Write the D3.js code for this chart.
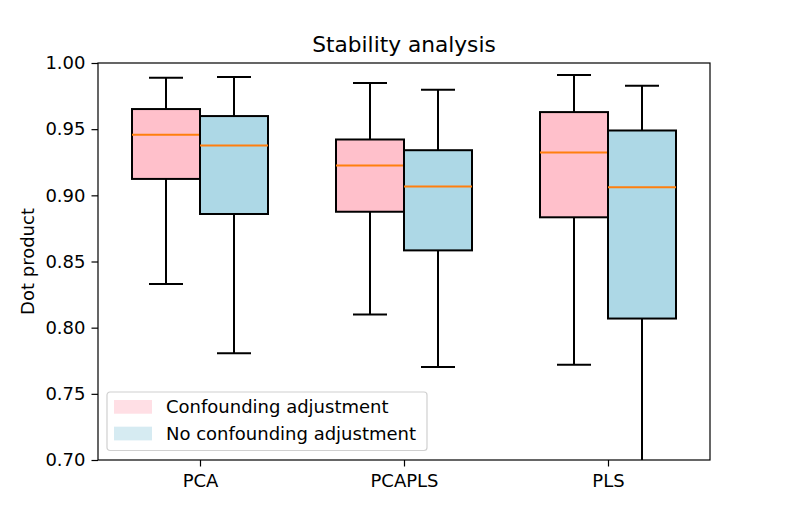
<!DOCTYPE html>
<html>
<head>
<meta charset="utf-8">
<script src="https://d3js.org/d3.v7.min.js"></script>
<style>
  body { margin: 0; background: #fff; }
  text { font-family: "DejaVu Sans", sans-serif; }
</style>
</head>
<body>
<svg id="chart"></svg>
<script>
// categories and the two series (whisker low, Q1, median, Q3, whisker high)
const categories = ["PCA", "PCAPLS", "PLS"];
const seriesNames = ["Confounding adjustment", "No confounding adjustment"];
const seriesColors = ["pink", "lightblue"];

const adjusted = [
    { low: 0.833, q1: 0.9124, med: 0.9457, q3: 0.9652, high: 0.9889 },
    { low: 0.810, q1: 0.8876, med: 0.9225, q3: 0.9422, high: 0.9849 },
    { low: 0.772, q1: 0.8834, med: 0.9323, q3: 0.9629, high: 0.9909 }
];
const notAdjusted = [
    { low: 0.7807, q1: 0.8859, med: 0.9376, q3: 0.9599, high: 0.9894 },
    { low: 0.7703, q1: 0.8584, med: 0.9066, q3: 0.9341, high: 0.9798 },
    { low: 0.680, q1: 0.8069, med: 0.9061, q3: 0.9490, high: 0.9828 }
];
const yTicks = [0.70, 0.75, 0.80, 0.85, 0.90, 0.95, 1.00];

// set the dimensions and margins of the graph
let margin = {top: 63, right: 79, bottom: 66, left: 98},
    width = 789 - margin.left - margin.right,
    height = 526 - margin.top - margin.bottom;

let svg = d3.select("#chart")
    .attr("width", width + margin.left + margin.right)
    .attr("height", height + margin.top + margin.bottom)
    .append("g")
    .attr("transform", "translate(" + margin.left + "," + margin.top + ")");

// positions 1..3 like matplotlib, xlim 0.5..3.5
let x = d3.scaleLinear().domain([0.5, 3.5]).range([0, width]);
let y = d3.scaleLinear().domain([0.70, 1.00]).range([height, 0]);

const offset = 1 / 6, boxW = 1 / 3;
const lw = 2;

svg.append("defs").append("clipPath").attr("id", "clip")
    .append("rect").attr("width", width).attr("height", height);

let plot = svg.append("g").attr("clip-path", "url(#clip)");

[adjusted, notAdjusted].forEach(function(series, s) {
    series.forEach(function(d, i) {
        let cx = i + 1 + (s === 0 ? -offset : offset);
        let x0 = x(cx - boxW / 2), x1 = x(cx + boxW / 2);
        let c0 = x(cx - boxW / 4), c1 = x(cx + boxW / 4);
        let g = plot.append("g");
        // whiskers
        g.append("line").attr("x1", x(cx)).attr("x2", x(cx))
            .attr("y1", y(d.q3)).attr("y2", y(d.high))
            .attr("stroke", "#000").attr("stroke-width", lw);
        g.append("line").attr("x1", x(cx)).attr("x2", x(cx))
            .attr("y1", y(d.q1)).attr("y2", y(d.low))
            .attr("stroke", "#000").attr("stroke-width", lw);
        // caps
        g.append("line").attr("x1", c0).attr("x2", c1)
            .attr("y1", y(d.high)).attr("y2", y(d.high))
            .attr("stroke", "#000").attr("stroke-width", lw);
        g.append("line").attr("x1", c0).attr("x2", c1)
            .attr("y1", y(d.low)).attr("y2", y(d.low))
            .attr("stroke", "#000").attr("stroke-width", lw);
        // box
        g.append("rect").attr("x", x0).attr("width", x1 - x0)
            .attr("y", y(d.q3)).attr("height", y(d.q1) - y(d.q3))
            .attr("fill", seriesColors[s])
            .attr("stroke", "#000").attr("stroke-width", lw);
        // median
        g.append("line").attr("x1", x0).attr("x2", x1)
            .attr("y1", y(d.med)).attr("y2", y(d.med))
            .attr("stroke", "#ff7f0e").attr("stroke-width", lw);
    });
});

// axes
let xAxis = svg.append("g")
    .attr("transform", "translate(0," + height + ")")
    .call(d3.axisBottom(x).tickValues([1, 2, 3])
        .tickFormat(function(d) { return categories[d - 1]; })
        .tickSize(6.5).tickPadding(8));
let yAxis = svg.append("g")
    .call(d3.axisLeft(y).tickValues(yTicks).tickFormat(d3.format(".2f"))
        .tickSize(6.5).tickPadding(6));

[xAxis, yAxis].forEach(function(a) {
    a.select(".domain").remove();
    a.selectAll("line").attr("stroke", "#000").attr("stroke-width", 1.2);
    a.selectAll("text").attr("font-size", "18px").attr("fill", "#000")
        .style("font-family", "'DejaVu Sans', sans-serif");
});

// frame
svg.append("rect").attr("width", width).attr("height", height)
    .attr("fill", "none").attr("stroke", "#000").attr("stroke-width", 1.2);

// title and y label
svg.append("text").attr("x", width / 2).attr("y", -11)
    .attr("text-anchor", "middle").attr("font-size", "21.7px")
    .text("Stability analysis");
svg.append("text")
    .attr("transform", "translate(-64," + height / 2 + ")rotate(-90)")
    .attr("text-anchor", "middle").attr("font-size", "18px")
    .text("Dot product");

// legend
let legend = svg.append("g").attr("transform", "translate(9,329)");
legend.append("rect").attr("width", 320).attr("height", 58.5)
    .attr("rx", 3).attr("fill", "#fff").attr("fill-opacity", 0.8)
    .attr("stroke", "#d0d0d0").attr("stroke-width", 1.2);
seriesNames.forEach(function(name, i) {
    legend.append("rect").attr("x", 7).attr("y", 8 + i * 26.7)
        .attr("width", 38).attr("height", 13.7)
        .attr("fill", seriesColors[i]).attr("opacity", 0.5);
    legend.append("text").attr("x", 59).attr("y", 21.3 + i * 26.7)
        .attr("font-size", "18px").text(name);
});
</script>
</body>
</html>
